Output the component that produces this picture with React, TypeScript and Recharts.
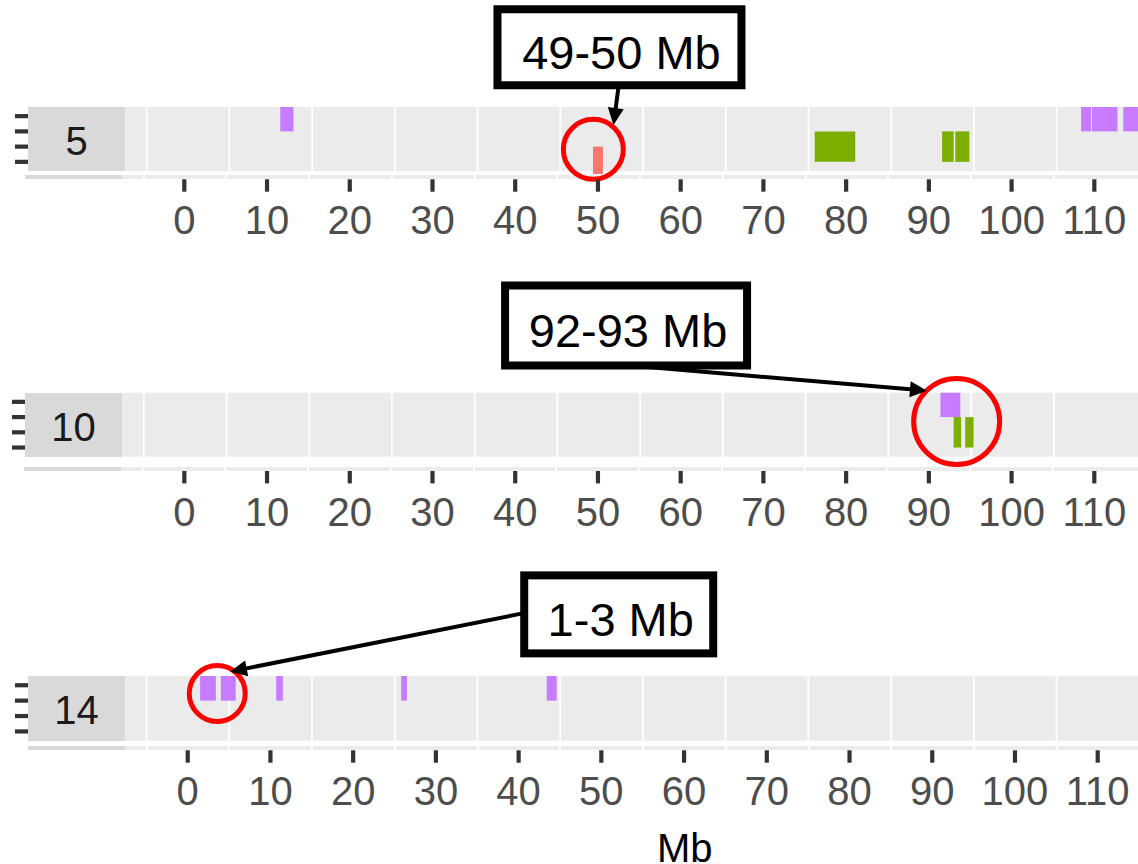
import React from "react";
import {
  ComposedChart,
  XAxis,
  YAxis,
  CartesianGrid,
  ReferenceArea,
  ReferenceDot,
  ReferenceLine,
} from "recharts";

const FONT = '"Liberation Sans", Arial, Helvetica, sans-serif';

const X_TICKS = [0, 10, 20, 30, 40, 50, 60, 70, 80, 90, 100, 110];
const GRID_BASE = [-10, 0, 10, 20, 30, 40, 50, 60, 70, 80, 90, 100];
const TRACK_TICKS = [1, 2, 3, 4];
const Y_DOMAIN: [number, number] = [0.4, 4.6];

const CHROMOSOMES = ["5", "10", "14"];

// feature classes -> colour and track band
const CLASS_FILL: Record<string, string> = {
  red: "#F8766D",
  green: "#7CAE00",
  purple: "#C77CFF",
};
const CLASS_YMIN: Record<string, number> = { red: 0.2, green: 1, purple: 3 };
const CLASS_YMAX: Record<string, number> = { red: 2, green: 3, purple: 4.6 };

// chromosome 5 (Mb)
const CHR5_START = [11.6, 49.4, 76.2, 91.6, 93.2, 108.4, 109.7, 113.5];
const CHR5_END = [13.2, 50.6, 81.1, 93.0, 94.9, 109.6, 112.8, 117.0];
const CHR5_CLASS = ["purple", "red", "green", "green", "green", "purple", "purple", "purple"];

// chromosome 10 (Mb)
const CHR10_START = [91.4, 93.0, 94.4];
const CHR10_END = [93.8, 93.9, 95.4];
const CHR10_CLASS = ["purple", "green", "green"];

// chromosome 14 (Mb)
const CHR14_START = [1.5, 4.0, 10.7, 25.8, 43.4];
const CHR14_END = [3.4, 5.8, 11.5, 26.5, 44.6];
const CHR14_CLASS = ["purple", "purple", "purple", "purple", "purple"];

// annotations
const NOTE_TEXT = ["49-50 Mb", "92-93 Mb", "1-3 Mb"];
const NOTE_X = [52.6, 53.4, 52.1];
const NOTE_Y = [8.52, 9.01, 8.6];
const RING_X = [49.44, 93.36, 3.57];
const RING_Y = [1.82, 2.71, 3.46];
const ARROW_X0 = [52.6, 53.9, 40.65];
const ARROW_Y0 = [6.4, 6.38, 8.68];
const ARROW_X1 = [51.88, 89.77, 5.11];
const ARROW_Y1 = [3.42, 4.73, 4.88];

const SEGMENTS = [
  CHR5_START.map((s, i) => ({ start: s, end: CHR5_END[i], cls: CHR5_CLASS[i] })),
  CHR10_START.map((s, i) => ({ start: s, end: CHR10_END[i], cls: CHR10_CLASS[i] })),
  CHR14_START.map((s, i) => ({ start: s, end: CHR14_END[i], cls: CHR14_CLASS[i] })),
];

// layout per panel
const W = 1138;
const PX_PER_MB = 8.273;
const PANELS = [
  { chartTop: 0, marginTop: 107, plotH: 64, plotLeft: 125, zeroPx: 184.3, gridShift: 5.45, stripGap: 4, thinShift: -3, ringR: 30, boxW: 244, boxH: 76 },
  { chartTop: 240, marginTop: 152.7, plotH: 64, plotLeft: 122, zeroPx: 184.3, gridShift: 5.1, stripGap: 10, thinShift: -1, ringR: 43, boxW: 242, boxH: 80 },
  { chartTop: 540, marginTop: 136, plotH: 64.7, plotLeft: 125, zeroPx: 187.7, gridShift: 5.02, stripGap: 5.3, thinShift: 0, ringR: 28, boxW: 189, boxH: 78 },
];
const AXIS_H = 86;

const Arrow = (p: any) => {
  const { x1, y1, x2, y2 } = p;
  const a = Math.atan2(y2 - y1, x2 - x1);
  const c = Math.cos(a);
  const s = Math.sin(a);
  const L = 17;
  const H = 8;
  const bx = x2 - L * c;
  const by = y2 - L * s;
  return (
    <g>
      <line x1={x1} y1={y1} x2={x2 - 8 * c} y2={y2 - 8 * s} stroke="#000" strokeWidth={4} />
      <polygon
        points={`${x2},${y2} ${bx - H * s},${by + H * c} ${bx + H * s},${by - H * c}`}
        fill="#000"
      />
    </g>
  );
};

const Panel = ({ idx }: { idx: number }) => {
  const p = PANELS[idx];
  const chartH = p.marginTop + p.plotH + AXIS_H;
  const xDomain: [number, number] = [
    (p.plotLeft - p.zeroPx) / PX_PER_MB,
    (W - p.zeroPx) / PX_PER_MB,
  ];
  const plotBottom = p.marginTop + p.plotH;
  const tickBase = plotBottom + p.stripGap + 4.3;
  const thinTop = p.chartTop + plotBottom + p.stripGap;
  const gridPx0 = p.zeroPx + (GRID_BASE[0] + p.gridShift) * PX_PER_MB + p.thinShift;
  const period = 10 * PX_PER_MB;
  const thinLeft = p.plotLeft + p.thinShift;
  const offset = gridPx0 + 1 - thinLeft - period;

  return (
    <>
      {/* facet strip */}
      <div
        style={{
          position: "absolute",
          left: p.plotLeft - 97,
          top: p.chartTop + p.marginTop,
          width: 97,
          height: p.plotH,
          boxSizing: "border-box",
          paddingTop: 2,
          background: "#D9D9D9",
          color: "#1A1A1A",
          fontSize: 40,
          lineHeight: `${p.plotH}px`,
          textAlign: "center",
          fontFamily: FONT,
        }}
      >
        {CHROMOSOMES[idx]}
      </div>
      {/* thin strip under the panel */}
      <div
        style={{
          position: "absolute",
          left: p.plotLeft - 97 + p.thinShift,
          top: thinTop,
          width: 97,
          height: 4.3,
          background: "#D9D9D9",
        }}
      />
      <div
        style={{
          position: "absolute",
          left: thinLeft,
          top: thinTop,
          width: W - thinLeft,
          height: 4.3,
          backgroundColor: "#EBEBEB",
          backgroundImage: `repeating-linear-gradient(to right, #EBEBEB 0px, #EBEBEB ${period - 2}px, #FFFFFF ${period - 2}px, #FFFFFF ${period}px)`,
          backgroundPosition: `${offset}px 0px`,
        }}
      />
      <div style={{ position: "absolute", left: 0, top: p.chartTop, width: W, height: chartH }}>
        <ComposedChart
          width={W}
          height={chartH}
          margin={{ top: p.marginTop, right: 0, bottom: 0, left: 0 }}
        >
          <CartesianGrid
            horizontal={false}
            fill="#EBEBEB"
            stroke="#FFFFFF"
            strokeWidth={1.8}
            verticalValues={GRID_BASE.map((g) => g + p.gridShift)}
          />
          <XAxis
            type="number"
            dataKey="x"
            domain={xDomain}
            allowDataOverflow
            ticks={X_TICKS}
            interval={0}
            height={AXIS_H}
            axisLine={false}
            tickLine={false}
            tick={(t: any) => (
              <g>
                <line x1={t.x} x2={t.x} y1={tickBase} y2={tickBase + 12.4} stroke="#333333" strokeWidth={4.2} />
                <text
                  x={t.x}
                  y={tickBase + 55}
                  textAnchor="middle"
                  fontSize={40}
                  fill="#4D4D4D"
                  fontFamily={FONT}
                >
                  {t.payload.value}
                </text>
              </g>
            )}
          />
          <YAxis
            type="number"
            dataKey="y"
            domain={Y_DOMAIN}
            allowDataOverflow
            ticks={TRACK_TICKS}
            interval={0}
            width={p.plotLeft}
            axisLine={false}
            tickLine={false}
            tick={(t: any) => (
              <line
                x1={p.plotLeft - 110}
                x2={p.plotLeft - 97}
                y1={t.y}
                y2={t.y}
                stroke="#333333"
                strokeWidth={4.2}
              />
            )}
          />
          {SEGMENTS[idx].map((s, i) => (
            <ReferenceArea
              key={`seg-${i}`}
              x1={s.start}
              x2={s.end}
              y1={CLASS_YMIN[s.cls]}
              y2={CLASS_YMAX[s.cls]}
              fill={CLASS_FILL[s.cls]}
              fillOpacity={1}
              stroke="none"
              ifOverflow="visible"
              zIndex={100}
            />
          ))}
          <ReferenceDot
            x={RING_X[idx]}
            y={RING_Y[idx]}
            r={p.ringR}
            fill="none"
            stroke="#FF0000"
            strokeWidth={5}
            ifOverflow="visible"
            zIndex={600}
          />
          <ReferenceLine
            segment={[
              { x: ARROW_X0[idx], y: ARROW_Y0[idx] },
              { x: ARROW_X1[idx], y: ARROW_Y1[idx] },
            ]}
            ifOverflow="visible"
            shape={Arrow}
            zIndex={700}
          />
          <ReferenceDot
            x={NOTE_X[idx]}
            y={NOTE_Y[idx]}
            ifOverflow="visible"
            zIndex={800}
            shape={(d: any) => (
              <g>
                <rect
                  x={d.cx - p.boxW / 2}
                  y={d.cy - p.boxH / 2}
                  width={p.boxW}
                  height={p.boxH}
                  fill="#FFFFFF"
                  stroke="#000000"
                  strokeWidth={8}
                />
                <text
                  x={d.cx + 2}
                  y={d.cy + 22}
                  textAnchor="middle"
                  fontSize={47}
                  fill="#000000"
                  fontFamily={FONT}
                >
                  {NOTE_TEXT[idx]}
                </text>
              </g>
            )}
          />
        </ComposedChart>
      </div>
    </>
  );
};

export default function App() {
  return (
    <div
      style={{
        position: "absolute",
        left: 0,
        top: 0,
        width: W,
        height: 864,
        background: "#FFFFFF",
        overflow: "hidden",
        fontFamily: FONT,
      }}
    >
      <Panel idx={0} />
      <Panel idx={1} />
      <Panel idx={2} />
      <div
        style={{
          position: "absolute",
          left: 584.7,
          top: 827.8,
          width: 200,
          textAlign: "center",
          fontSize: 40,
          lineHeight: "40px",
          color: "#000000",
        }}
      >
        Mb
      </div>
    </div>
  );
}
